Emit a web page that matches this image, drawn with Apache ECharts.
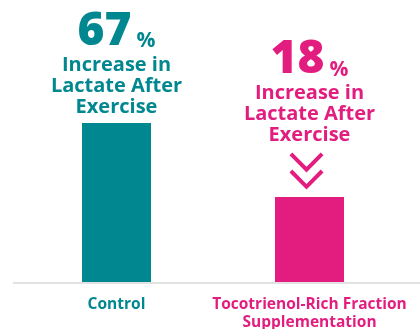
<!DOCTYPE html>
<html>
<head>
<meta charset="utf-8">
<script src="https://cdn.jsdelivr.net/npm/echarts@6/dist/echarts.min.js"></script>
<style>
html,body{margin:0;padding:0;background:#fff;}
#chart{width:420px;height:329px;}
</style>
</head>
<body>
<div id="chart"></div>
<script>
const categories = ['Control', 'Tocotrienol-Rich Fraction\nSupplementation'];
const barValues = [67, 36];
const pctLabels = ['67', '18'];
const captionLines = ['Increase in', 'Lactate After', 'Exercise'];
const colors = ['#00878F', '#E21D7F'];

const FONT = 'Open Sans';
function labelFor(i, withSpacer) {
  return {
    show: true,
    position: 'top',
    distance: 5,
    fontFamily: FONT,
    formatter: '{big|' + pctLabels[i] + '}{pct|%}\n' +
      captionLines.map(function (l) { return '{txt|' + l + '}'; }).join('\n') +
      (withSpacer ? '\n{sp|}' : ''),
    rich: {
      big: { fontSize: 46, fontWeight: 800, color: colors[i], fontFamily: FONT, lineHeight: 46, verticalAlign: 'bottom', padding: [0, 5, 0, 0] },
      pct: { fontSize: 21, fontWeight: 700, color: colors[i], fontFamily: FONT, lineHeight: 46, verticalAlign: 'bottom', padding: [0, 0, 3, 0] },
      txt: { fontSize: 20, fontWeight: 700, color: colors[i], fontFamily: FONT, lineHeight: 21, align: 'center' },
      sp: { lineHeight: 46, height: 46 }
    }
  };
}

const chart = echarts.init(document.getElementById('chart'), null, { renderer: 'canvas' });
chart.setOption({
  animation: false,
  grid: { left: 20, right: 14, top: 44.2, bottom: 46, containLabel: false, outerBoundsMode: 'none' },
  xAxis: {
    type: 'category',
    data: categories,
    axisLine: { show: false },
    axisTick: { show: false },
    axisLabel: {
      interval: 0,
      margin: 13,
      fontFamily: FONT,
      fontWeight: 700,
      fontSize: 15.5,
      lineHeight: 18,
      color: function (v, i) { return colors[i]; }
    }
  },
  yAxis: { type: 'value', min: 0, max: 100, show: false, splitLine: { show: false } },
  graphic: [{
    type: 'line', shape: { x1: 13, y1: 283, x2: 420, y2: 283 },
    style: { stroke: '#e2e2e2', lineWidth: 2 }, z: 10
  }],
  series: [{
    type: 'bar',
    barWidth: 69,
    data: barValues.map(function (v, i) {
      return { value: v, itemStyle: { color: colors[i] }, label: labelFor(i, i === 1) };
    }),
    markPoint: {
      silent: true,
      data: [{
        coord: [1, barValues[1]],
        symbol: 'path://M0,2.8L2.8,0L17,14.2L31.2,0L34,2.8L17,19.8ZM0,19.8L2.8,17L17,31.2L31.2,17L34,19.8L17,36.8Z',
        symbolSize: [34, 37],
        symbolOffset: [-3, -26],
        itemStyle: { color: colors[1] },
        label: { show: false }
      }]
    }
  }]
});
</script>
</body>
</html>
